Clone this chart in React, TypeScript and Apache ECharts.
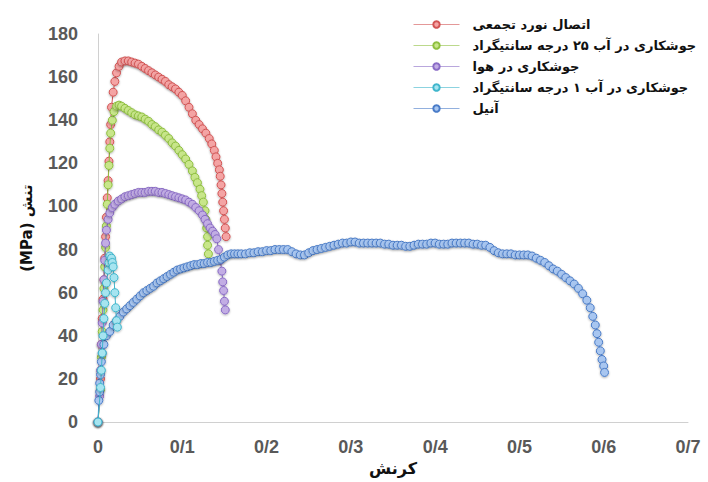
import React, { useEffect, useRef } from "react";
import * as echarts from "echarts";

const seriesNames = [
  "اتصال نورد تجمعی",
  "جوشکاری در آب ۲۵ درجه سانتیگراد",
  "جوشکاری در هوا",
  "جوشکاری در آب ۱ درجه سانتیگراد",
  "آنیل",
];

const xTickLabels = ["0", "0/1", "0/2", "0/3", "0/4", "0/5", "0/6", "0/7"];

const rollBonded: [number, number][] = [
  [0.0, 0], [0.003, 20], [0.004, 36], [0.005, 48], [0.006, 57], [0.007, 66], [0.008, 76],
  [0.009, 86], [0.01, 95], [0.011, 104], [0.012, 112], [0.013, 121], [0.014, 130],
  [0.015, 138], [0.016, 146], [0.018, 153], [0.02, 158], [0.022, 162], [0.025, 165],
  [0.028, 167], [0.032, 167.5], [0.036, 167.5], [0.04, 167], [0.044, 166.5], [0.048, 166],
  [0.052, 165], [0.056, 164], [0.06, 163], [0.064, 162], [0.068, 161], [0.072, 160],
  [0.076, 159], [0.08, 158], [0.084, 156.5], [0.088, 155.5], [0.092, 154.5], [0.096, 153],
  [0.1, 151.5], [0.104, 149], [0.108, 146], [0.112, 143], [0.116, 140], [0.12, 138],
  [0.124, 136], [0.128, 134], [0.132, 131.5], [0.135, 129], [0.138, 126], [0.14, 123],
  [0.142, 120], [0.144, 117], [0.145, 114], [0.146, 110], [0.147, 106], [0.148, 102],
  [0.149, 98], [0.15, 94], [0.151, 90], [0.152, 86],
];

const water25: [number, number][] = [
  [0.0, 0], [0.003, 15], [0.004, 30], [0.005, 42], [0.006, 52], [0.007, 62], [0.008, 72],
  [0.009, 81], [0.01, 91], [0.011, 101], [0.012, 110], [0.013, 119], [0.014, 127],
  [0.015, 134], [0.017, 140], [0.019, 144], [0.022, 146.5], [0.025, 147], [0.028, 146.5],
  [0.032, 145.5], [0.036, 144.5], [0.04, 143.5], [0.044, 142.5], [0.048, 142],
  [0.052, 141.5], [0.056, 140.5], [0.06, 139.5], [0.064, 138], [0.068, 137], [0.072, 135.5],
  [0.076, 134.5], [0.08, 133], [0.084, 131.5], [0.088, 129.5], [0.092, 128], [0.096, 126],
  [0.1, 124], [0.104, 122], [0.108, 119.5], [0.112, 116.5], [0.115, 113.5], [0.118, 111],
  [0.121, 108], [0.123, 105], [0.125, 102], [0.127, 98], [0.128, 94], [0.129, 90],
  [0.13, 86], [0.13, 82], [0.131, 78],
];

const air: [number, number][] = [
  [0.0, 0], [0.002, 12], [0.003, 24], [0.004, 36], [0.005, 46], [0.006, 56], [0.007, 66],
  [0.008, 75], [0.009, 83], [0.01, 89], [0.012, 94], [0.014, 97], [0.017, 99.5], [0.02, 101],
  [0.024, 102.5], [0.028, 103.5], [0.032, 104.5], [0.036, 105], [0.04, 105.5], [0.044, 106],
  [0.048, 106.5], [0.052, 106.5], [0.056, 106.5], [0.06, 107], [0.064, 107], [0.068, 107],
  [0.072, 106.5], [0.076, 106.5], [0.08, 106], [0.084, 105.5], [0.088, 105], [0.092, 104.5],
  [0.096, 104], [0.1, 103.5], [0.104, 103], [0.108, 102], [0.112, 101], [0.116, 99.5],
  [0.12, 98], [0.124, 96], [0.127, 94], [0.13, 92], [0.133, 90], [0.136, 88.5], [0.139, 87],
  [0.141, 85], [0.143, 80], [0.145, 75], [0.147, 70], [0.148, 65], [0.149, 61], [0.15, 56],
  [0.151, 52],
];

const water1: [number, number][] = [
  [0.0, 0], [0.003, 16], [0.004, 24], [0.005, 32], [0.006, 40], [0.007, 48], [0.008, 55],
  [0.009, 60], [0.01, 64.5], [0.012, 70.5], [0.013, 74], [0.014, 77], [0.016, 76],
  [0.017, 74], [0.018, 72], [0.019, 67], [0.02, 60], [0.021, 53], [0.022, 47], [0.023, 44],
];

const annealed: [number, number][] = [
  [0.0, 0], [0.001, 10], [0.002, 14], [0.002, 18], [0.003, 22], [0.004, 28], [0.005, 32],
  [0.007, 36], [0.01, 40], [0.014, 42], [0.018, 45], [0.022, 47], [0.026, 49], [0.03, 51],
  [0.034, 52.5], [0.038, 54], [0.042, 55.5], [0.046, 57], [0.05, 58.5], [0.054, 60],
  [0.058, 61], [0.062, 62], [0.066, 63], [0.07, 64.5], [0.074, 65.5], [0.078, 66.5],
  [0.082, 67.5], [0.086, 68.5], [0.09, 69.5], [0.094, 70.5], [0.098, 71], [0.102, 71.5],
  [0.106, 72], [0.11, 72.5], [0.114, 73], [0.118, 73], [0.122, 73.5], [0.126, 73.5],
  [0.13, 74], [0.134, 74], [0.138, 74.5], [0.142, 75], [0.146, 75.5], [0.15, 76.5],
  [0.154, 77.5], [0.158, 78], [0.162, 78], [0.166, 78], [0.17, 78], [0.175, 78],
  [0.18, 78.5], [0.185, 78.5], [0.19, 79], [0.195, 79], [0.2, 79.5], [0.205, 79.5],
  [0.21, 80], [0.215, 80], [0.22, 80], [0.225, 80], [0.23, 79], [0.235, 78], [0.24, 77.5],
  [0.245, 77.5], [0.25, 78.5], [0.255, 79.5], [0.26, 80], [0.265, 80.5], [0.27, 81],
  [0.275, 81.5], [0.28, 82], [0.285, 82.5], [0.29, 83], [0.295, 83], [0.3, 83.5],
  [0.305, 83.5], [0.31, 83], [0.315, 83], [0.32, 83], [0.325, 83], [0.33, 83], [0.335, 83],
  [0.34, 82.5], [0.345, 82.5], [0.35, 82], [0.355, 82], [0.36, 82], [0.365, 81.5],
  [0.37, 81.5], [0.375, 82], [0.38, 82.5], [0.385, 82.5], [0.39, 82.5], [0.395, 83],
  [0.4, 83], [0.405, 82.5], [0.41, 82.5], [0.415, 82.5], [0.42, 83], [0.425, 83], [0.43, 83],
  [0.435, 83], [0.44, 83], [0.445, 82.5], [0.45, 82.5], [0.455, 82], [0.46, 82],
  [0.465, 81], [0.47, 79.5], [0.475, 78.5], [0.48, 78], [0.485, 78], [0.49, 78],
  [0.495, 77.5], [0.5, 77.5], [0.505, 77.5], [0.51, 77.5], [0.515, 77], [0.52, 76],
  [0.525, 75], [0.53, 74], [0.535, 72.5], [0.54, 71], [0.545, 70], [0.55, 68.5],
  [0.555, 67], [0.56, 65.5], [0.565, 64], [0.57, 62], [0.575, 59.5], [0.58, 56.5],
  [0.584, 53], [0.587, 49], [0.59, 45], [0.592, 41], [0.594, 37], [0.596, 33], [0.598, 29],
  [0.6, 26], [0.601, 23],
];

const fills = ["#f4a4a4", "#c8e68a", "#c2ade4", "#a6e4f0", "#a8c6f0"];
const borders = ["#d25454", "#8fc040", "#8a6cc6", "#40b6cc", "#4a7cc8"];

function makeSeries(idx: number, data: [number, number][], z: number) {
  return {
    name: seriesNames[idx],
    type: "line",
    data,
    z,
    symbol: "circle",
    symbolSize: 8,
    showSymbol: true,
    lineStyle: { color: borders[idx], width: 1 },
    itemStyle: {
      color: fills[idx],
      borderColor: borders[idx],
      borderWidth: 1,
      shadowColor: "rgba(0,0,0,0.3)",
      shadowBlur: 2,
      shadowOffsetY: 1,
    },
  };
}

export default function App() {
  const ref = useRef<HTMLDivElement>(null);
  useEffect(() => {
    document.body.style.margin = "0";
    const chart = echarts.init(ref.current!, null, { renderer: "svg" });
    const labelFont = {
      fontFamily: "Liberation Sans",
      fontWeight: "bold" as const,
      fontSize: 18,
      color: "#595959",
    };
    chart.setOption({
      animation: false,
      backgroundColor: "#ffffff",
      grid: { left: 98, right: 20, top: 34, bottom: 60, containLabel: false },
      legend: {
        orient: "vertical",
        left: 408,
        top: 13,
        itemGap: 8,
        itemWidth: 46,
        itemHeight: 8,
        data: seriesNames,
        lineStyle: { width: 1, opacity: 0.6 },
        itemStyle: { shadowBlur: 0, shadowOffsetY: 0 },
        textStyle: {
          fontFamily: "DejaVu Sans",
          fontWeight: "bold",
          fontSize: 13,
          color: "#111111",
          padding: [0, 0, 0, 8],
        },
      },
      xAxis: {
        type: "value",
        min: 0,
        max: 0.7,
        interval: 0.1,
        name: "کرنش",
        nameLocation: "middle",
        nameGap: 32,
        nameTextStyle: {
          fontFamily: "DejaVu Sans",
          fontWeight: "bold",
          fontSize: 16,
          color: "#111111",
        },
        axisLine: { show: true, lineStyle: { color: "#d0d0d0", width: 1 } },
        axisTick: { show: false },
        splitLine: { show: false },
        axisLabel: {
          ...labelFont,
          margin: 16,
          formatter: (v: number) => xTickLabels[Math.round(v * 10)] ?? "",
        },
      },
      yAxis: {
        type: "value",
        min: 0,
        max: 180,
        interval: 20,
        name: "(MPa) تنش",
        nameLocation: "middle",
        nameRotate: 90,
        nameGap: 64,
        nameTextStyle: {
          fontFamily: "DejaVu Sans",
          fontWeight: "bold",
          fontSize: 15,
          color: "#111111",
        },
        axisLine: { show: true, lineStyle: { color: "#d0d0d0", width: 1 } },
        axisTick: { show: false },
        splitLine: { show: false },
        axisLabel: { ...labelFont, margin: 20 },
      },
      series: [
        makeSeries(0, rollBonded, 2),
        makeSeries(1, water25, 3),
        makeSeries(2, air, 4),
        makeSeries(4, annealed, 5),
        makeSeries(3, water1, 6),
      ],
    });
    return () => chart.dispose();
  }, []);
  return <div ref={ref} style={{ width: 708, height: 482 }} />;
}
